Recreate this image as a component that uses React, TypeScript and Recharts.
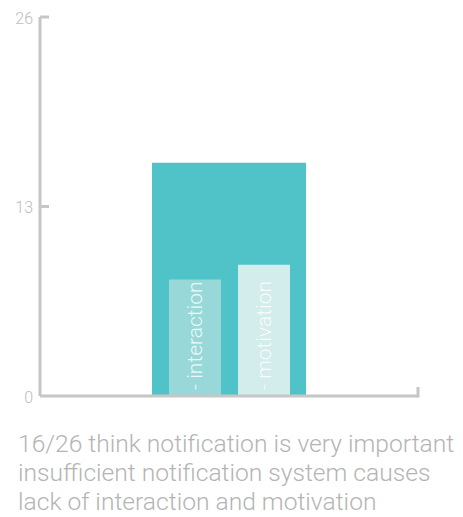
import React from 'react'
import { BarChart, Bar, XAxis, YAxis, ReferenceLine, LabelList } from 'recharts'

const categories = ['notification']
const totalValues = [16]
const interactionValues = [8]
const motivationValues = [9]
const yTicks = [0, 13, 26]
const captionLines = [
  '16/26 think notification is very important',
  'insufficient notification system causes',
  'lack of interaction and motivation',
]

const AXIS = '#c6c6c6'
const FONT = 'Roboto, "Helvetica Neue", Lato, sans-serif'

const data = categories.map((name, i) => ({
  name,
  total: totalValues[i],
  interaction: interactionValues[i],
  motivation: motivationValues[i],
}))

const YTick = (props: any) => {
  const { x, y, payload } = props
  return (
    <g>
      <text x={x - 7} y={y + 1} textAnchor="end" dominantBaseline="central" fill="#bdbdbd" fontSize={16} fontWeight={300} fontFamily={FONT}>
        {payload.value}
      </text>
      {payload.value !== 0 && <line x1={x} x2={x + 9} y1={y} y2={y} stroke={AXIS} strokeWidth={3} />}
    </g>
  )
}

// small upward cap at the right end of the baseline
const EndCap = (props: any) => {
  const vb = props.viewBox || {}
  const x = (vb.x ?? 0) + (vb.width ?? 0)
  const y = vb.y ?? 0
  return <line x1={x} x2={x} y1={y + 1.5} y2={y - 9} stroke={AXIS} strokeWidth={3} />
}

const barLabel = (text: string) => (props: any) => {
  const { x, y, width, height } = props
  const cx = x + width / 2
  const by = y + height - 6
  return (
    <text x={cx} y={by} transform={`rotate(-90 ${cx} ${by})`} dominantBaseline="central" fill="#ffffff" fillOpacity={0.85}
      fontSize={21} fontWeight={300} fontFamily={FONT}>
      {text}
    </text>
  )
}

export default function App() {
  return (
    <div style={{ position: 'absolute', left: 0, top: 0, width: 463, height: 517, background: '#fff' }}>
      <BarChart width={463} height={410} data={data} barGap={17} margin={{ top: 17, right: 45, left: 0, bottom: 0 }}>
        <XAxis xAxisId="outer" dataKey="name" tick={false} tickLine={false} height={14} axisLine={false} />
        <XAxis xAxisId="inner" dataKey="name" hide />
        <YAxis domain={[0, 26]} ticks={yTicks} width={40} tickSize={0} tickMargin={0} tickLine={false}
          axisLine={{ stroke: AXIS, strokeWidth: 3 }} tick={<YTick />} interval={0} />
        <Bar xAxisId="outer" dataKey="total" fill="#50c3c8" barSize={154} isAnimationActive={false} />
        <Bar xAxisId="inner" dataKey="interaction" fill="#98d8d9" barSize={52} isAnimationActive={false}>
          <LabelList dataKey="interaction" content={barLabel('- interaction')} />
        </Bar>
        <Bar xAxisId="inner" dataKey="motivation" fill="#d3ecec" barSize={52} isAnimationActive={false}>
          <LabelList dataKey="motivation" content={barLabel('- motivation')} />
        </Bar>
        <ReferenceLine xAxisId="outer" y={0} stroke={AXIS} strokeWidth={3} label={<EndCap />} />
      </BarChart>
      <div style={{ position: 'absolute', left: 18, top: 429, fontFamily: FONT, fontWeight: 300, fontSize: 24.6, lineHeight: '29px', color: '#b4b4b4', whiteSpace: 'nowrap' }}>
        {captionLines.map((l) => (
          <div key={l}>{l}</div>
        ))}
      </div>
    </div>
  )
}
